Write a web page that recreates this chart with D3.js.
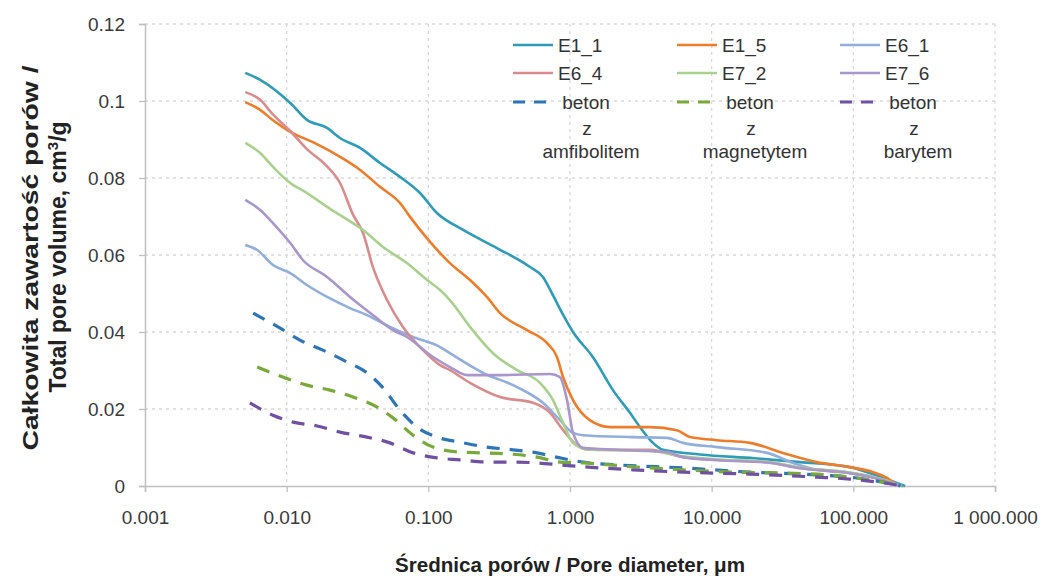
<!doctype html>
<html>
<head>
<meta charset="utf-8">
<script src="https://d3js.org/d3.v7.min.js"></script>
<style>
  body { margin: 0; background: #fff; }
  text { font-family: "Liberation Sans", Arial, sans-serif; }
</style>
</head>
<body>
<svg width="1049" height="576"></svg>
<script>
// pore diameter [um] vs total pore volume [cm3/g]
var e1_1 = [[0.0051,0.1073],[0.0065,0.1055],[0.0106,0.0995],[0.0139,0.0951],[0.0193,0.093],[0.0238,0.0904],[0.033,0.0878],[0.0456,0.0839],[0.0631,0.0803],[0.0873,0.0761],[0.115,0.0709],[0.176,0.0665],[0.305,0.0618],[0.522,0.0569],[0.644,0.0543],[0.759,0.0495],[0.893,0.0445],[1.05,0.040],[1.45,0.0335],[2.01,0.0249],[2.65,0.019],[3.12,0.0153],[3.85,0.0112],[4.53,0.0094],[8.27,0.0082],[20,0.0072],[42,0.0062],[94.7,0.0049],[162,0.0021],[232,0]];
var e1_5 = [[0.0051,0.0997],[0.0065,0.0977],[0.008,0.095],[0.0106,0.092],[0.0153,0.0893],[0.0238,0.0855],[0.033,0.0821],[0.0456,0.0777],[0.0631,0.0735],[0.0743,0.0699],[0.1028,0.0634],[0.142,0.0579],[0.197,0.0535],[0.259,0.0491],[0.321,0.0449],[0.497,0.0405],[0.689,0.0371],[0.809,0.0335],[0.893,0.0283],[1.05,0.0223],[1.38,0.0171],[1.92,0.0153],[3.67,0.0153],[5.69,0.0145],[7.03,0.0127],[10.9,0.0119],[18.6,0.0112],[31.9,0.0086],[55.3,0.0062],[94.7,0.0049],[138,0.0036],[173,0.0021],[203,0.0003],[210,0]];
var e6_1 = [[0.0051,0.0626],[0.0062,0.0613],[0.008,0.0574],[0.0106,0.0553],[0.0139,0.0522],[0.0193,0.0491],[0.028,0.0462],[0.0369,0.0444],[0.0536,0.0413],[0.078,0.0387],[0.121,0.0361],[0.142,0.0345],[0.243,0.0294],[0.423,0.0257],[0.644,0.0216],[0.849,0.0171],[1.05,0.0138],[1.24,0.0132],[2.78,0.0127],[4.84,0.0125],[6.28,0.0112],[10.9,0.0101],[24.6,0.0086],[37.5,0.006],[55.3,0.0042],[94.7,0.0034],[162,0.0016],[220,0]];
var e6_4 = [[0.0051,0.1023],[0.0065,0.1003],[0.008,0.0965],[0.0106,0.0922],[0.0139,0.0875],[0.0193,0.083],[0.0238,0.0787],[0.0294,0.0705],[0.0346,0.0657],[0.0406,0.0569],[0.0511,0.0483],[0.0662,0.0413],[0.0916,0.0353],[0.121,0.0314],[0.142,0.0301],[0.197,0.0268],[0.321,0.0231],[0.548,0.0216],[0.723,0.019],[0.893,0.0145],[1.12,0.0106],[1.38,0.0094],[3.67,0.0094],[6.28,0.0075],[10.9,0.0068],[24.6,0.0062],[42,0.0047],[94.7,0.0034],[162,0.0016],[213,0]];
var e7_2 = [[0.0051,0.0891],[0.0065,0.0865],[0.008,0.0829],[0.0106,0.0787],[0.0139,0.0761],[0.0193,0.0725],[0.025,0.0699],[0.0346,0.0665],[0.0479,0.0621],[0.0706,0.0579],[0.098,0.0535],[0.121,0.0509],[0.142,0.0483],[0.197,0.0413],[0.286,0.0345],[0.423,0.0301],[0.614,0.0268],[0.759,0.0223],[0.893,0.0164],[1.05,0.0112],[1.38,0.0094],[3.67,0.0091],[6.28,0.0077],[10.9,0.0069],[24.6,0.0063],[42,0.0048],[94.7,0.0035],[162,0.0017],[213,0]];
var e7_6 = [[0.0051,0.0743],[0.0065,0.0717],[0.008,0.0683],[0.0106,0.0631],[0.013,0.0587],[0.0193,0.0543],[0.028,0.0491],[0.0406,0.0444],[0.0563,0.0405],[0.0706,0.0387],[0.108,0.0335],[0.142,0.0309],[0.188,0.0288],[0.321,0.0288],[0.723,0.0291],[0.849,0.0283],[0.953,0.0223],[1.05,0.0138],[1.24,0.0099],[2.15,0.0094],[4.84,0.0088],[6.28,0.0075],[10.9,0.0067],[24.6,0.0061],[42,0.0046],[94.7,0.0033],[162,0.0015],[213,0]];
var betonAmf = [[0.0058,0.0449],[0.009,0.041],[0.0124,0.0379],[0.018,0.0353],[0.0267,0.0322],[0.0369,0.0294],[0.0479,0.0255],[0.0631,0.0197],[0.0832,0.0153],[0.115,0.0127],[0.167,0.0114],[0.259,0.0101],[0.396,0.0094],[0.585,0.0086],[0.849,0.0073],[1.24,0.0062],[2.15,0.0055],[6.28,0.0047],[18.6,0.0036],[55.3,0.0029],[94.7,0.0023],[162,0.001],[203,0.0003],[215,0]];
var betonMag = [[0.0062,0.0309],[0.0094,0.0283],[0.0139,0.0262],[0.0202,0.0249],[0.0294,0.0231],[0.0435,0.0205],[0.0563,0.0177],[0.078,0.0132],[0.108,0.0101],[0.167,0.0088],[0.243,0.0086],[0.377,0.0083],[0.585,0.0075],[0.849,0.0062],[1.24,0.006],[2.78,0.005],[6.28,0.0042],[14.2,0.0036],[31.9,0.0034],[94.7,0.0023],[162,0.001],[224,0]];
var betonBar = [[0.0055,0.0216],[0.008,0.0184],[0.0111,0.0166],[0.0164,0.0156],[0.0238,0.014],[0.0369,0.0127],[0.0536,0.0112],[0.078,0.0086],[0.115,0.0073],[0.167,0.0068],[0.272,0.0062],[0.423,0.0062],[0.585,0.006],[0.849,0.0055],[1.24,0.005],[2.78,0.0042],[6.28,0.0036],[18.6,0.0031],[55.3,0.0023],[94.7,0.0018],[162,0.0008],[224,0]];

var xTicks = [0.001, 0.01, 0.1, 1, 10, 100, 1000];
var xTickLabels = ["0.001", "0.010", "0.100", "1.000", "10.000", "100.000", "1 000.000"];
var yTicks = [0, 0.02, 0.04, 0.06, 0.08, 0.1, 0.12];
var yTickLabels = ["0", "0.02", "0.04", "0.06", "0.08", "0.1", "0.12"];

var series = [
  {name: "E1_1", data: e1_1, color: "#2E9BB8", dash: null},
  {name: "E1_5", data: e1_5, color: "#EE7D2B", dash: null},
  {name: "E6_1", data: e6_1, color: "#91AEDC", dash: null},
  {name: "E6_4", data: e6_4, color: "#DA8C8C", dash: null},
  {name: "E7_2", data: e7_2, color: "#A9D18E", dash: null},
  {name: "E7_6", data: e7_6, color: "#A996CB", dash: null},
  {name: ["beton", "z", "amfibolitem"], data: betonAmf, color: "#2E75B6", dash: "13,10"},
  {name: ["beton", "z", "magnetytem"], data: betonMag, color: "#78A93A", dash: "13,10"},
  {name: ["beton", "z", "barytem"], data: betonBar, color: "#7050A2", dash: "13,10"}
];

var svg = d3.select("svg");
var mLeft = 145, mRight = 995, mTop = 24, mBottom = 486;

var x = d3.scaleLog().domain([0.001, 1000]).range([mLeft, mRight]);
var y = d3.scaleLinear().domain([0, 0.12]).range([mBottom, mTop]);

// grid
svg.append("g").selectAll("line").data(yTicks.slice(1)).enter().append("line")
  .attr("x1", mLeft).attr("x2", mRight)
  .attr("y1", function(d) { return y(d); }).attr("y2", function(d) { return y(d); })
  .attr("stroke", "#D9D9D9").attr("stroke-width", 1.3).attr("stroke-dasharray", "3,4");
svg.append("g").selectAll("line").data(xTicks.slice(1)).enter().append("line")
  .attr("x1", function(d) { return x(d); }).attr("x2", function(d) { return x(d); })
  .attr("y1", mTop).attr("y2", mBottom)
  .attr("stroke", "#D9D9D9").attr("stroke-width", 1.3).attr("stroke-dasharray", "3,4");

// axes
var xAxis = d3.axisBottom(x).tickValues(xTicks).tickSize(6).tickPadding(19)
  .tickFormat(function(d, i) { return xTickLabels[i]; });
var gx = svg.append("g").attr("transform", "translate(0," + mBottom + ")").call(xAxis);
var yAxis = d3.axisLeft(y).tickValues(yTicks).tickSize(6).tickPadding(14)
  .tickFormat(function(d, i) { return yTickLabels[i]; });
var gy = svg.append("g").attr("transform", "translate(" + mLeft + ",0)").call(yAxis);
[gx, gy].forEach(function(g) {
  g.select(".domain").attr("stroke", "#BFBFBF").attr("stroke-width", 1.5);
  g.selectAll(".tick line").attr("stroke", "#BFBFBF").attr("stroke-width", 1.3);
  g.selectAll(".tick text").attr("fill", "#3A3A3A").style("font-size", "19px")
    .style("font-family", "'Liberation Sans', Arial, sans-serif");
});

// curves
var line = d3.line()
  .x(function(d) { return x(d[0]); })
  .y(function(d) { return y(d[1]); })
  .curve(d3.curveMonotoneX);

svg.append("g").selectAll("path").data(series).enter().append("path")
  .attr("d", function(s) { return line(s.data); })
  .attr("fill", "none")
  .attr("stroke", function(s) { return s.color; })
  .attr("stroke-width", function(s) { return s.dash ? 3.2 : 2.6; })
  .attr("stroke-dasharray", function(s) { return s.dash; })
  .attr("stroke-linejoin", "round");

// legend
var legCols = [513, 677, 840];
var legRows = [45, 73, 102];
var leg = svg.append("g").selectAll("g").data(series).enter().append("g")
  .attr("transform", function(s, i) { return "translate(" + legCols[i % 3] + "," + legRows[Math.floor(i / 3)] + ")"; });
leg.append("line")
  .attr("x1", 0).attr("x2", 40).attr("y1", 0).attr("y2", 0)
  .attr("stroke", function(s) { return s.color; })
  .attr("stroke-width", function(s) { return s.dash ? 3.2 : 2.6; })
  .attr("stroke-dasharray", function(s) { return s.dash ? "12,9" : null; });
leg.each(function(s) {
  var g = d3.select(this);
  if (typeof s.name === "string") {
    g.append("text").attr("x", 45).attr("y", 7).attr("fill", "#333")
      .style("font-size", "19px").text(s.name);
  } else {
    var t = g.append("text").attr("fill", "#333").style("font-size", "19px")
      .attr("text-anchor", "middle");
    t.append("tspan").attr("x", 73).attr("y", 7).text(s.name[0]);
    t.append("tspan").attr("x", 74).attr("y", 33).text(s.name[1]);
    t.append("tspan").attr("x", 78).attr("y", 56).text(s.name[2]);
  }
});

// axis titles
svg.append("text")
  .attr("x", 570).attr("y", 572).attr("text-anchor", "middle")
  .attr("textLength", 350).attr("lengthAdjust", "spacingAndGlyphs")
  .attr("fill", "#222").style("font-size", "21px").style("font-weight", "bold")
  .text("Średnica porów / Pore diameter, μm");

svg.append("text")
  .attr("transform", "translate(38,258) rotate(-90)")
  .attr("text-anchor", "middle").attr("fill", "#222")
  .attr("textLength", 385).attr("lengthAdjust", "spacingAndGlyphs")
  .style("font-size", "22px").style("font-weight", "bold")
  .text("Całkowita zawartość porów /");
var yt2 = svg.append("text")
  .attr("transform", "translate(66,257) rotate(-90)")
  .attr("text-anchor", "middle").attr("fill", "#222")
  .style("font-size", "23px").style("font-weight", "bold");
yt2.append("tspan").text("Total pore volume, cm");
yt2.append("tspan").attr("dy", -8).style("font-size", "15px").text("3");
yt2.append("tspan").attr("dy", 8).text("/g");
</script>
</body>
</html>
